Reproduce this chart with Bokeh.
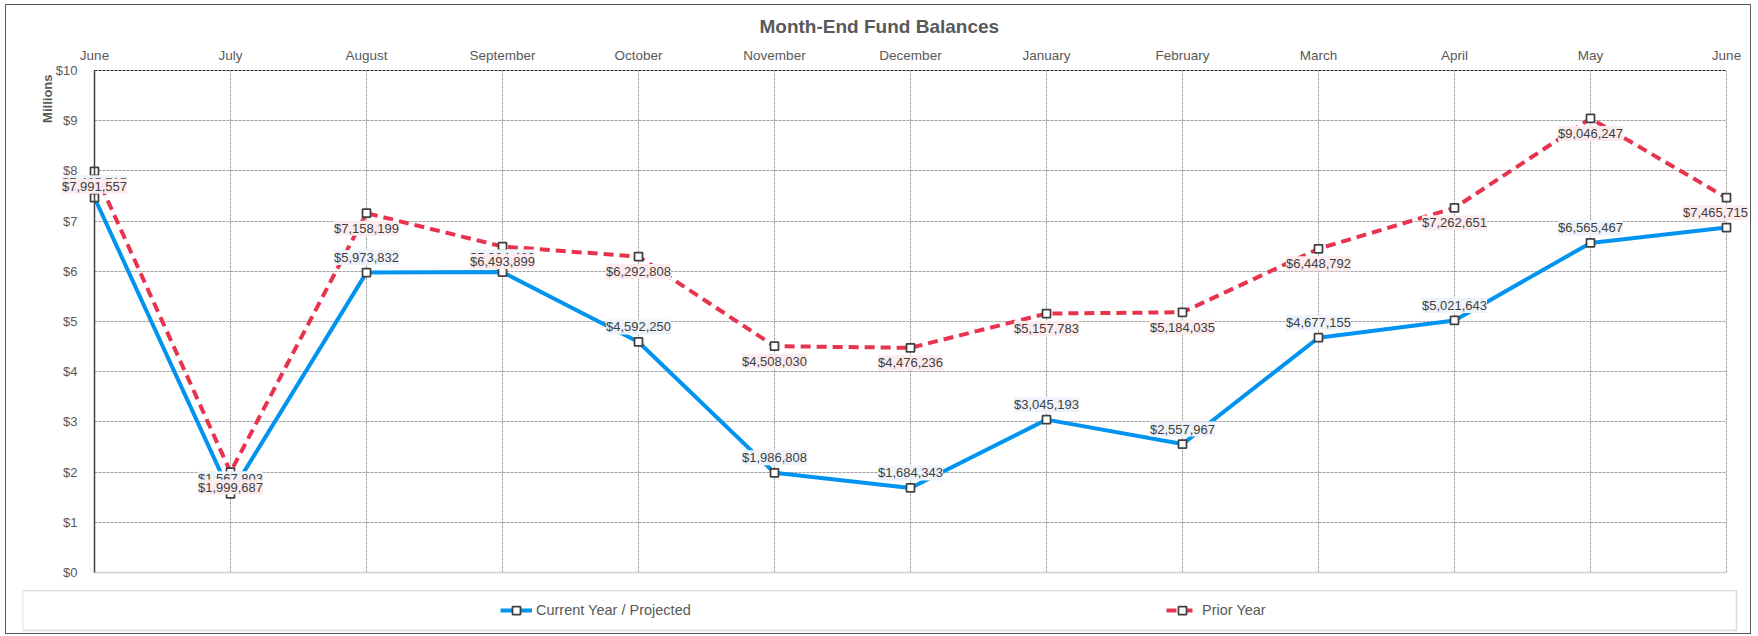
import math
from bokeh.plotting import figure
from bokeh.models import (ColumnDataSource, LabelSet, Label, FixedTicker, LinearAxis, Grid,
                          Range1d, Legend, LegendItem, BoxAnnotation)
from bokeh.core.properties import value
from bokeh.layouts import column
from bokeh.embed import file_html
from bokeh.resources import INLINE

# ---------------- data ----------------
months = ["June", "July", "August", "September", "October", "November", "December",
          "January", "February", "March", "April", "May", "June"]
current_year = [7465715, 1567803, 5973832, 5984489, 4592250, 1986808, 1684343,
                3045193, 2557967, 4677155, 5021643, 6565467, 6872000]
prior_year = [7991557, 1999687, 7158199, 6493899, 6292808, 4508030, 4476236,
              5157783, 5184035, 6448792, 7262651, 9046247, 7465715]
y_ticks = [0, 1, 2, 3, 4, 5, 6, 7, 8, 9, 10]
y_tick_labels = ["$0", "$1", "$2", "$3", "$4", "$5", "$6", "$7", "$8", "$9", "$10"]

# ---------------- style / geometry (page pixels) ----------------
FONT = "Liberation Sans"
BLUE = "#0094F0"
RED = "#E8334F"
TXT = "#595959"

ORIGIN_X, ORIGIN_Y = 6, 5          # inner top-left of the chart box
W = 1744                           # inner width of the chart box
FRAME_L, FRAME_R = 22, 1750        # frame edges (page px)
FRAME_T, FRAME_B = 62, 580
X_FIRST, X_LAST = 94, 1726         # pixel of first / last month
Y_TOP, Y_BOT = 70, 572             # pixel of top / bottom y tick
MAIN_H = 584
LEG_H = 44

n = len(months)
frame_w = FRAME_R - FRAME_L
frame_h = FRAME_B - FRAME_T
px_per = (X_LAST - X_FIRST) / (n - 1)
y_px = (Y_BOT - Y_TOP) / (y_ticks[-1] - y_ticks[0])


def px2x(px):
    return (px - X_FIRST) / px_per


def px2y(py):
    return y_ticks[0] + (Y_BOT - py) / y_px


xs = list(range(n))
xoff = [0] * (n - 1) + [-11]
src_cur = ColumnDataSource(dict(x=xs, y=[v / 1e6 for v in current_year],
                                lbl=[f"${v:,}" for v in current_year], xo=xoff))
src_pri = ColumnDataSource(dict(x=xs, y=[v / 1e6 for v in prior_year],
                                lbl=[f"${v:,}" for v in prior_year], xo=xoff))

p = figure(width=W, height=MAIN_H, output_backend="svg", toolbar_location=None,
           x_range=Range1d(px2x(FRAME_L), px2x(FRAME_R)),
           y_range=Range1d(px2y(FRAME_B), px2y(FRAME_T)),
           x_axis_location="above", y_axis_location=None,
           frame_width=frame_w, frame_height=frame_h,
           min_border_left=FRAME_L - ORIGIN_X, min_border_right=ORIGIN_X + W - FRAME_R,
           min_border_top=FRAME_T - ORIGIN_Y,
           min_border_bottom=MAIN_H - (FRAME_T - ORIGIN_Y) - frame_h)
p.outline_line_color = None
p.background_fill_color = "white"
p.border_fill_color = "white"

p.title.text = "Month-End Fund Balances"
p.title.align = "left"
p.title.offset = 759 - FRAME_L
p.title.standoff = 14
p.title.vertical_align = "middle"
p.title.text_font = FONT
p.title.text_font_size = "19px"
p.title.text_font_style = "bold"
p.title.text_color = TXT

# top x axis (labels only)
xax = p.xaxis[0]
xax.ticker = FixedTicker(ticks=xs)
xax.major_label_overrides = {i: m for i, m in enumerate(months)}
xax.major_label_text_font = FONT
xax.major_label_text_font_size = "13.5px"
xax.major_label_text_color = TXT
xax.axis_line_color = None
xax.major_tick_line_color = None
xax.minor_tick_line_color = None
xax.major_tick_out = 0
xax.major_tick_in = 0
xax.major_label_standoff = 0

# left y axis, fixed at the first month
yax = LinearAxis(fixed_location=xs[0], ticker=FixedTicker(ticks=y_ticks),
                 bounds=(y_ticks[0], y_ticks[-1]))
yax.major_label_overrides = {t: l for t, l in zip(y_ticks, y_tick_labels)}
yax.major_label_text_font = FONT
yax.major_label_text_font_size = "13px"
yax.major_label_text_color = TXT
yax.axis_line_color = "#404040"
yax.axis_line_width = 1.5
yax.major_tick_line_color = None
yax.minor_tick_line_color = None
yax.major_label_standoff = 11
p.add_layout(yax, "left")

# axis title "Millions"
p.add_layout(Label(x=px2x(47), y=px2y(74), text="Millions", angle=math.pi / 2,
                   text_align="right", text_baseline="middle", text_font=FONT,
                   text_font_size="13px", text_font_style="bold", text_color=TXT))

# grids (limited to the plot area between the first/last month and $0/$10)
x_span = (xs[0], xs[-1])
y_span = (y_ticks[0], y_ticks[-1])
p.xgrid.ticker = FixedTicker(ticks=xs)
p.xgrid.cross_bounds = y_span
p.ygrid.ticker = FixedTicker(ticks=y_ticks[1:-1])
p.ygrid.cross_bounds = x_span
for g in (p.xgrid[0], p.ygrid[0]):
    g.grid_line_color = "#A0A0A0"
    g.grid_line_dash = "3 1"
    g.grid_line_width = 1
# top border line of the plot area ($10) and base line ($0)
p.add_layout(Grid(dimension=1, ticker=FixedTicker(ticks=[y_ticks[-1]]), cross_bounds=x_span,
                  grid_line_color="#262626", grid_line_dash="3 1", grid_line_width=1))
p.add_layout(Grid(dimension=1, ticker=FixedTicker(ticks=[y_ticks[0]]), cross_bounds=x_span,
                  grid_line_color="#D0D0D0", grid_line_width=1.5))

# series
l_cur = p.line("x", "y", source=src_cur, line_color=BLUE, line_width=4)
l_pri = p.line("x", "y", source=src_pri, line_color=RED, line_width=4, line_dash="10 6")
m_cur = p.scatter("x", "y", source=src_cur, marker="square", size=8, fill_color="white",
                  line_color="#404040", line_width=1.75)
m_pri = p.scatter("x", "y", source=src_pri, marker="square", size=8, fill_color="white",
                  line_color="#404040", line_width=1.75)

label_extra = {}
if "padding" in LabelSet.properties():
    label_extra["padding"] = (4, 2)

lab_cur = LabelSet(x="x", y="y", text="lbl", source=src_cur, y_offset=15, x_offset="xo",
                   text_align="center", text_baseline="middle", text_font=value(FONT),
                   text_font_size="13px", text_color="#404040",
                   background_fill_color="#EEF3FA", **label_extra)
lab_pri = LabelSet(x="x", y="y", text="lbl", source=src_pri, y_offset=-15, x_offset="xo",
                   text_align="center", text_baseline="middle", text_font=value(FONT),
                   text_font_size="13px", text_color="#404040",
                   background_fill_color="#FDECEE", **label_extra)
p.add_layout(lab_cur)
p.add_layout(lab_pri)

# ---------------- legend panel ----------------
LEG_TOP = ORIGIN_Y + MAIN_H         # page y where the legend panel starts
p2 = figure(width=W, height=LEG_H, output_backend="svg", toolbar_location=None,
            x_range=Range1d(0, frame_w), y_range=Range1d(0, LEG_H),
            x_axis_type=None, y_axis_type=None,
            frame_width=frame_w, frame_height=LEG_H,
            min_border_left=FRAME_L - ORIGIN_X, min_border_right=ORIGIN_X + W - FRAME_R,
            min_border_top=0, min_border_bottom=0)
p2.outline_line_color = None
p2.background_fill_color = "white"
p2.border_fill_color = "white"
# legend box: page x 22..1736, page y 590..630
p2.add_layout(BoxAnnotation(left=0, right=1736 - FRAME_L,
                            bottom=LEG_H - (630 - LEG_TOP), top=LEG_H - (590 - LEG_TOP),
                            fill_color=None, line_color="#8C8C8C", line_width=1.5))
nan = [math.nan]
d_cl = p2.line(x=nan, y=nan, line_color=BLUE, line_width=4)
d_cm = p2.scatter(x=nan, y=nan, marker="square", size=8, fill_color="white",
                  line_color="#404040", line_width=1.75)
d_pl = p2.line(x=nan, y=nan, line_color=RED, line_width=4, line_dash="10 6")
d_pm = p2.scatter(x=nan, y=nan, marker="square", size=8, fill_color="white",
                  line_color="#404040", line_width=1.75)


def mk_legend(label, rends, loc):
    return Legend(items=[LegendItem(label=label, renderers=rends)], location=loc,
                  orientation="horizontal", padding=0, margin=0, border_line_color=None,
                  background_fill_alpha=0, glyph_width=32, label_standoff=4,
                  label_text_font=FONT, label_text_font_size="14.5px", label_text_color=TXT)


p2.add_layout(mk_legend("Current Year / Projected", [d_cl, d_cm], (500 - FRAME_L, 13)), "center")
p2.add_layout(mk_legend("Prior Year", [d_pl, d_pm], (1166 - FRAME_L, 13)), "center")

layout = column(p, p2, spacing=0,
                styles={"border": "1px solid #595959", "margin-left": f"{ORIGIN_X - 1}px",
                        "margin-top": f"{ORIGIN_Y - 1}px"})

open("out.html", "w").write(file_html(layout, INLINE))
